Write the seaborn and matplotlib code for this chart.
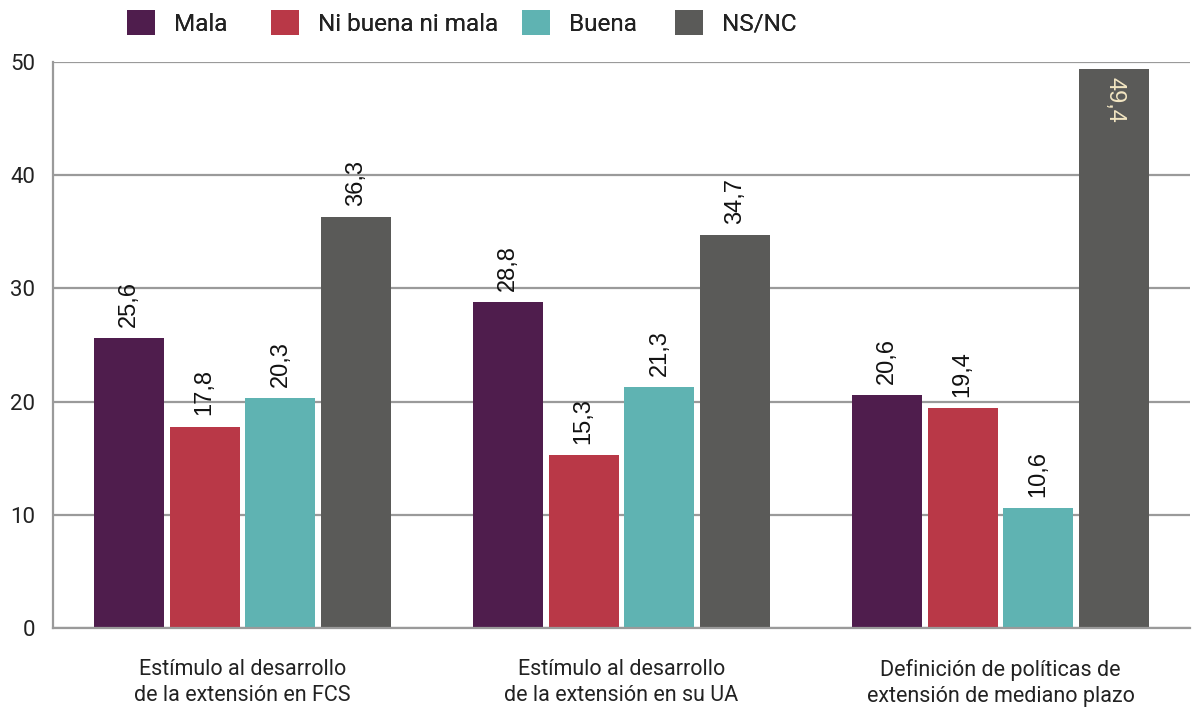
import matplotlib
matplotlib.use("Agg")
import matplotlib.pyplot as plt
import seaborn as sns
import pandas as pd
from matplotlib.patches import Patch

# Survey results (%) by aspect evaluated
categories = [
    "Estímulo al desarrollo\nde la extensión en FCS",
    "Estímulo al desarrollo\nde la extensión en su UA",
    "Definición de políticas de\nextensión de mediano plazo",
]
series_names = ["Mala", "Ni buena ni mala", "Buena", "NS/NC"]
mala = [25.6, 28.8, 20.6]
ni_buena_ni_mala = [17.8, 15.3, 19.4]
buena = [20.3, 21.3, 10.6]
ns_nc = [36.3, 34.7, 49.4]
y_ticks = [0, 10, 20, 30, 40, 50]

colors = ["#4f1d4d", "#b93847", "#5fb3b2", "#5a5a58"]

values = [mala, ni_buena_ni_mala, buena, ns_nc]
rows = []
for name, vals in zip(series_names, values):
    for cat, v in zip(categories, vals):
        rows.append({"categoria": cat, "respuesta": name, "valor": v})
df = pd.DataFrame(rows)

sns.set_theme(style="white")
plt.rcParams["font.family"] = ["Roboto", "DejaVu Sans"]

W, H = 1195, 709
fig = plt.figure(figsize=(W / 100, H / 100), dpi=100)
ax = fig.add_axes([53 / W, 1 - 628 / H, (1190 - 53) / W, (628 - 62) / H])

sns.barplot(
    data=df, x="categoria", y="valor", hue="respuesta",
    order=categories, hue_order=series_names, palette=colors,
    width=0.8, gap=0.075, saturation=1, legend=False, ax=ax,
    edgecolor="none", linewidth=0,
)

ax.set_xlim(-0.5, 2.5)
ax.set_ylim(0, 50)
ax.set_yticks(y_ticks)
ax.set_yticklabels([str(t) for t in y_ticks])
ax.set_xlabel("")
ax.set_ylabel("")

# horizontal grid
ax.set_axisbelow(True)
ax.yaxis.grid(True, color="#9a9a9a", linewidth=1.6)
ax.xaxis.grid(False)
for side in ("top", "right"):
    ax.spines[side].set_visible(False)
for side in ("left", "bottom"):
    ax.spines[side].set_color("#9a9a9a")
    ax.spines[side].set_linewidth(1.6)

# group separators as minor ticks
ax.set_xticks([0.5, 1.5, 2.5], minor=True)
ax.tick_params(axis="x", which="minor", direction="inout", length=12,
               width=1.4, color="#9a9a9a")
ax.tick_params(axis="x", which="major", length=0, pad=22,
               labelsize=15.5, labelcolor="#222222")
ax.tick_params(axis="y", length=0, pad=13, labelsize=16, labelcolor="#222222")
for lbl in ax.get_xticklabels():
    lbl.set_linespacing(1.35)

# value labels
for container, vals in zip(ax.containers, values):
    for bar, v in zip(container, vals):
        x = bar.get_x() + bar.get_width() / 2
        txt = f"{v:.1f}".replace(".", ",")
        if v > 45:
            ax.annotate(txt, (x, v), xytext=(0, -6), textcoords="offset points",
                        rotation=-90, ha="center", va="top",
                        fontsize=17, color="#f3e6c2", family="Liberation Sans")
        else:
            ax.annotate(txt, (x, v), xytext=(0, 8), textcoords="offset points",
                        rotation=90, ha="center", va="bottom",
                        fontsize=17, color="#111111", family="Liberation Sans")

# legend entries across the top, one block per series
legend_x = [127, 271, 522, 675]
for name, color, lx in zip(series_names, colors, legend_x):
    leg = fig.legend(
        handles=[Patch(facecolor=color, edgecolor="none", label=name)],
        loc="upper left", bbox_to_anchor=(lx / W, 1 - 10 / H),
        frameon=False, fontsize=17.5, handlelength=1.15, handleheight=1.2,
        handletextpad=0.8, borderpad=0, borderaxespad=0,
        labelcolor="#222222",
    )
    fig.add_artist(leg)

fig.savefig("out.png", dpi=100)
